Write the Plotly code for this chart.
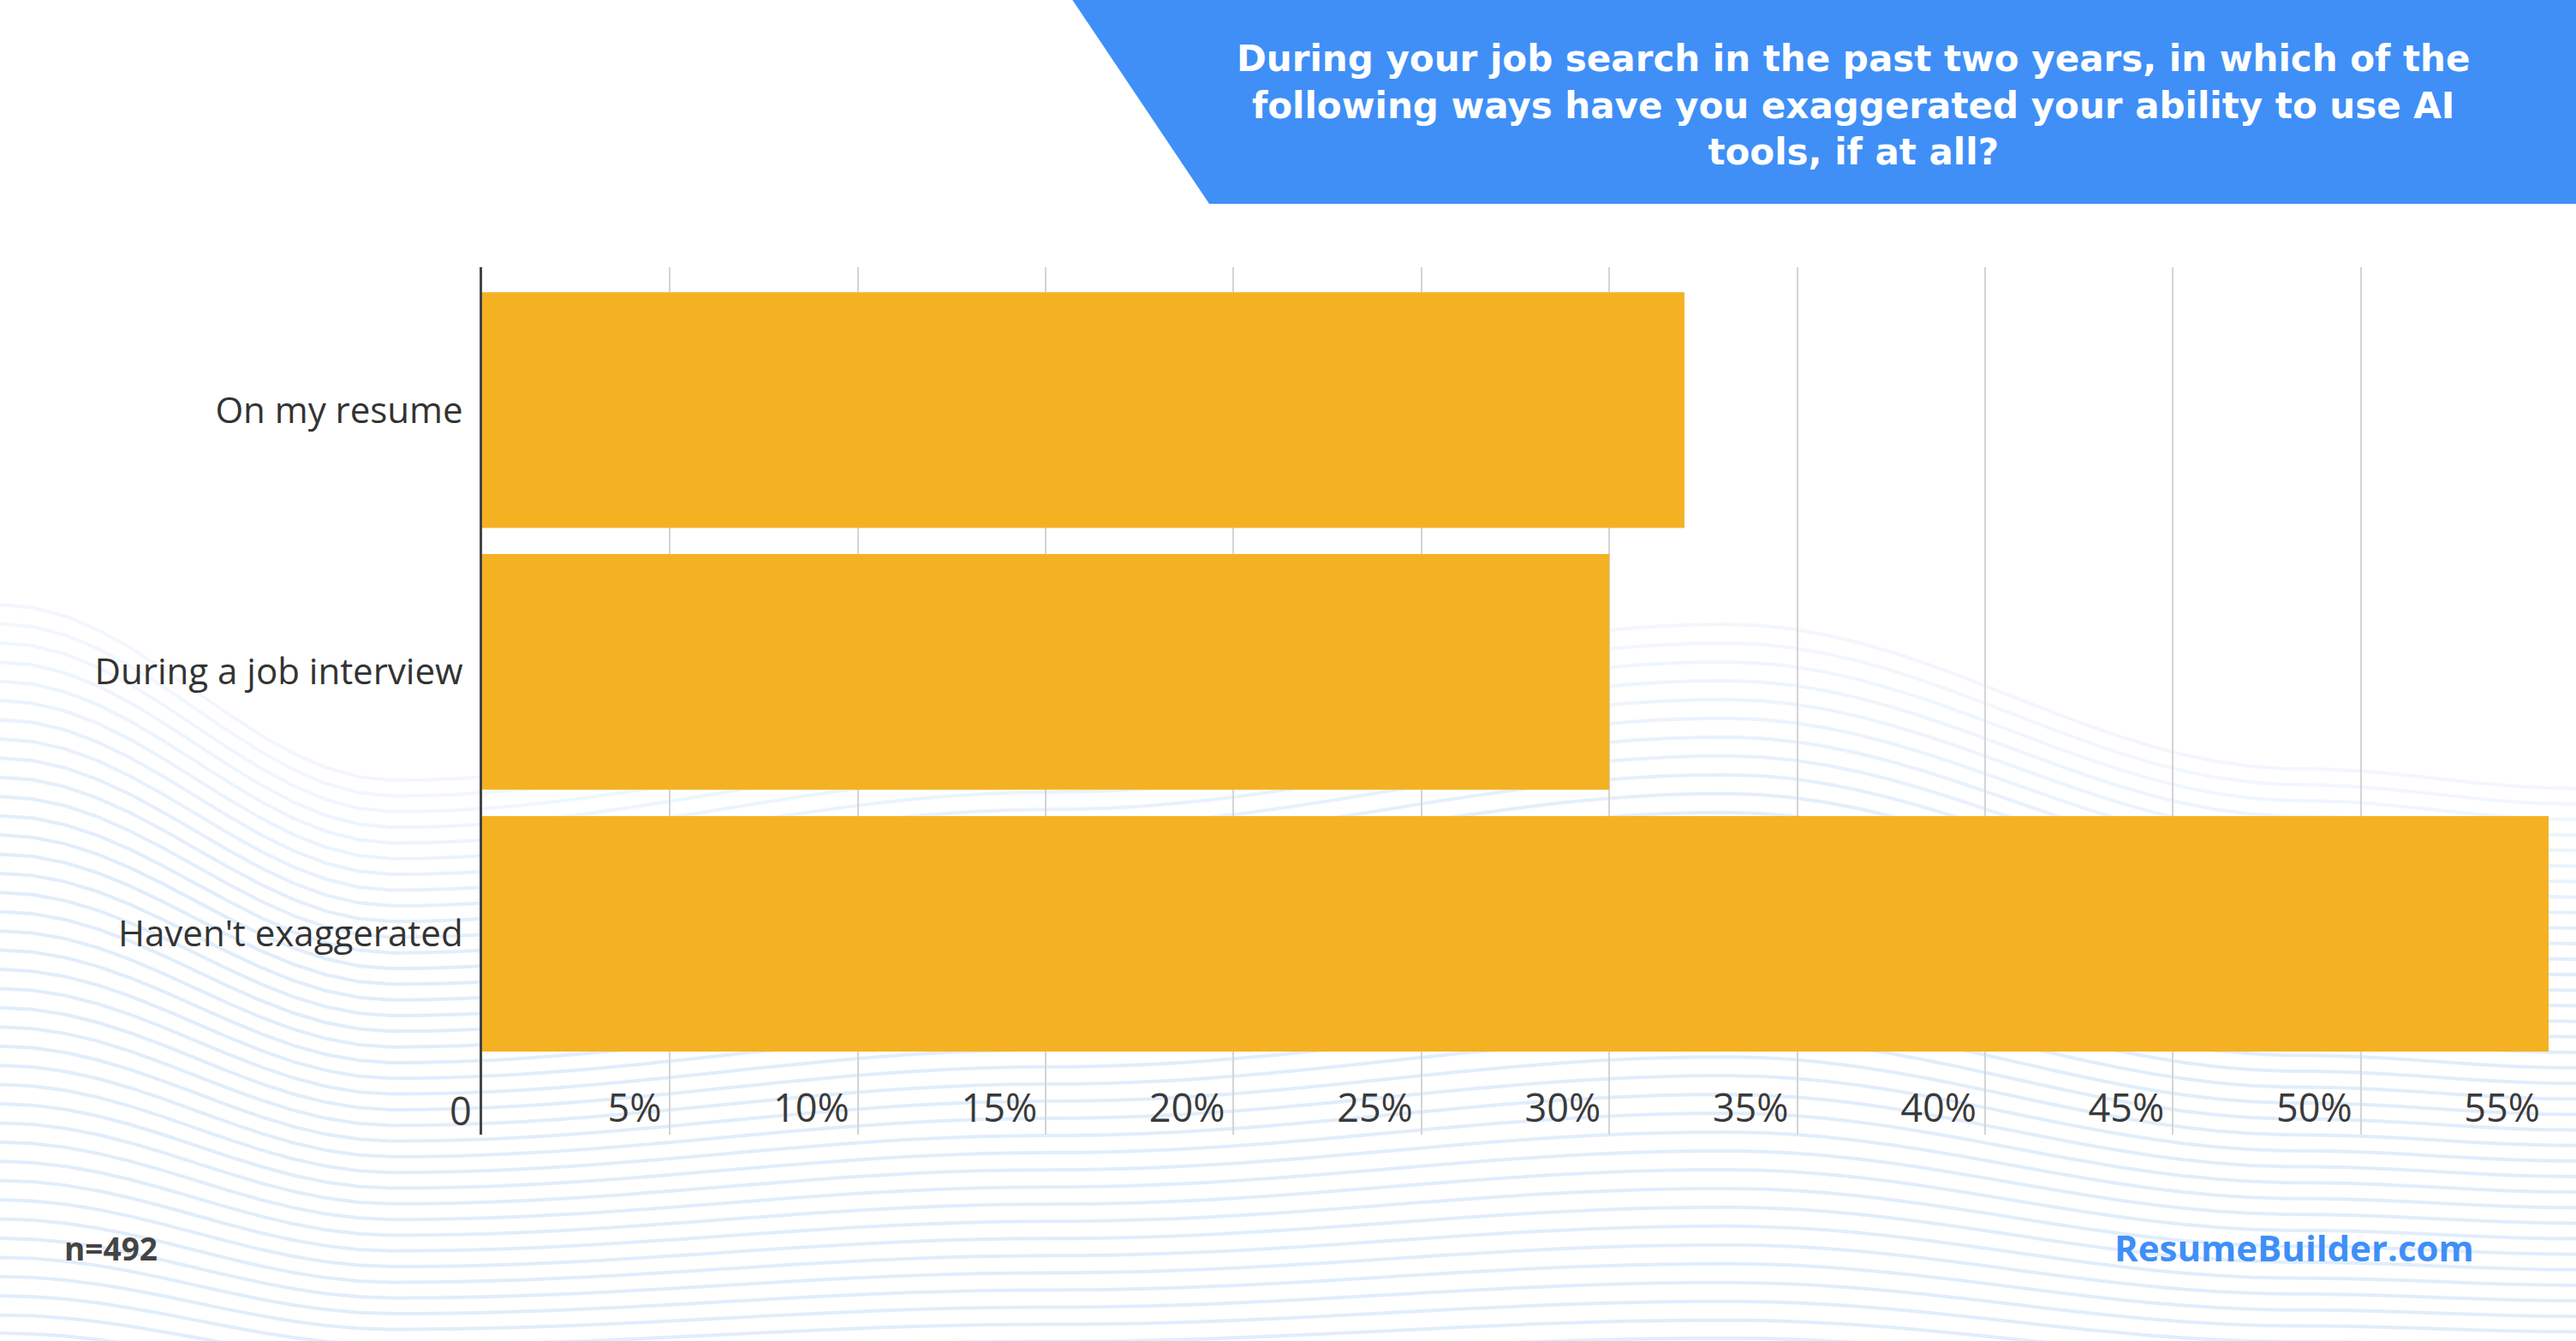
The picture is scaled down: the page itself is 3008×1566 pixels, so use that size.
import numpy as np
import plotly.graph_objects as go

# ---- data ----
categories = ["On my resume", "During a job interview", "Haven't exaggerated"]
values = [32, 30, 55]
tick_vals = [0, 5, 10, 15, 20, 25, 30, 35, 40, 45, 50, 55]
tick_text = ["0", "5%", "10%", "15%", "20%", "25%", "30%", "35%", "40%", "45%", "50%", "55%"]
title_text = ("During your job search in the past two years, in which of the<br>"
              "following ways have you exaggerated your ability to use AI<br>"
              "tools, if at all?")
sample_text = "n=492"
brand_text = "ResumeBuilder.com"

# ---- layout geometry (pixels) ----
W, H = 3008, 1566
ML, MR, MT, MB = 563, 32, 312, 241
PW, PH = W - ML - MR, H - MT - MB


def px(x):
    return (x - ML) / PW


def py(y):
    return (H - MB - y) / PH


BLUE = "#3F8FF7"
BAR = "#F4B223"
FONT = "Open Sans"
TITLE_FONT = "DejaVu Sans"

fig = go.Figure()
fig.add_trace(go.Bar(
    x=values, y=categories, orientation="h",
    marker=dict(color=BAR, line=dict(width=0)),
    hoverinfo="skip",
))

shapes = []

# decorative background waves
ctrl_x = np.array([0, 240, 640, 1050, 1400, 1568]) * (W / 1568)
ctrl_y = np.array([368, 475, 430, 380, 468, 480]) * (W / 1568)


def wave_top(xs):
    out = np.empty_like(xs)
    for i, x in enumerate(xs):
        j = np.searchsorted(ctrl_x, x, side="right") - 1
        j = min(max(j, 0), len(ctrl_x) - 2)
        t = (x - ctrl_x[j]) / (ctrl_x[j + 1] - ctrl_x[j])
        s = (1 - np.cos(np.pi * t)) / 2
        out[i] = ctrl_y[j] * (1 - s) + ctrl_y[j + 1] * s
    return out


xs = np.linspace(0, W, 80)
top = wave_top(xs)
base = top.mean()
for k in range(44):
    amp = max(0.25, 1 - k / 50)
    ys = base + k * 20 + amp * (top - base)
    if ys.min() > H:
        break
    alpha = min(0.6, 0.25 + k * 0.03)
    d = "M " + " L ".join(f"{px(x):.5f},{py(y):.5f}" for x, y in zip(xs, ys))
    shapes.append(dict(type="path", path=d, xref="paper", yref="paper", layer="below",
                       line=dict(color=f"rgba(205,225,248,{alpha:.2f})", width=4)))

# title banner
banner = (f"M {px(1251):.5f},{py(-2):.5f} L {px(W + 2):.5f},{py(-2):.5f} "
          f"L {px(W + 2):.5f},{py(238):.5f} L {px(1412):.5f},{py(238):.5f} Z")
shapes.append(dict(type="path", path=banner, xref="paper", yref="paper", layer="above",
                   fillcolor=BLUE, line=dict(width=0)))

annotations = [
    dict(text=f"<b>{title_text}</b>", x=px(2164), y=py(123), xref="paper", yref="paper",
         xanchor="center", yanchor="middle", showarrow=False, align="center",
         font=dict(family=TITLE_FONT, size=42, color="white")),
    dict(text=f"<b>{sample_text}</b>", x=px(73), y=py(1457), xref="paper", yref="paper",
         xanchor="left", yanchor="middle", showarrow=False,
         font=dict(family=FONT, size=37, color="#444444")),
    dict(text=f"<b>{brand_text}</b>", x=px(2891), y=py(1456), xref="paper", yref="paper",
         xanchor="right", yanchor="middle", showarrow=False,
         font=dict(family=FONT, size=42, color=BLUE)),
    # the "0" tick label sits left of the axis line (outside the plot area)
    dict(text=tick_text[0], x=tick_vals[0], y=py(1296), xref="x", yref="paper",
         xanchor="right", yanchor="middle", showarrow=False, xshift=-10,
         font=dict(family=FONT, size=45, color="#3a3a3a")),
]

fig.update_layout(
    width=W, height=H,
    margin=dict(l=ML, r=MR, t=MT, b=MB, pad=0),
    paper_bgcolor="white", plot_bgcolor="rgba(0,0,0,0)",
    showlegend=False, bargap=0.1,
    shapes=shapes, annotations=annotations,
    font=dict(family=FONT, color="#333333"),
)
fig.update_xaxes(
    range=[0, 55], tickvals=tick_vals, ticktext=tick_text,
    ticklabelposition="inside left", ticklabelshift=-10,
    tickfont=dict(size=45, color="#3a3a3a", family=FONT),
    showgrid=True, gridcolor="#d4d4d4", gridwidth=2, zeroline=False, showline=False,
    ticks="",
)
fig.update_yaxes(
    categoryorder="array", categoryarray=categories[::-1],
    range=[-0.767, 2.546], tickfont=dict(size=42, color="#333333", family=FONT),
    showline=True, linecolor="#444444", linewidth=3, showgrid=False, zeroline=False,
    ticks="", ticklabelstandoff=11,
)

fig.write_html("out.html")
